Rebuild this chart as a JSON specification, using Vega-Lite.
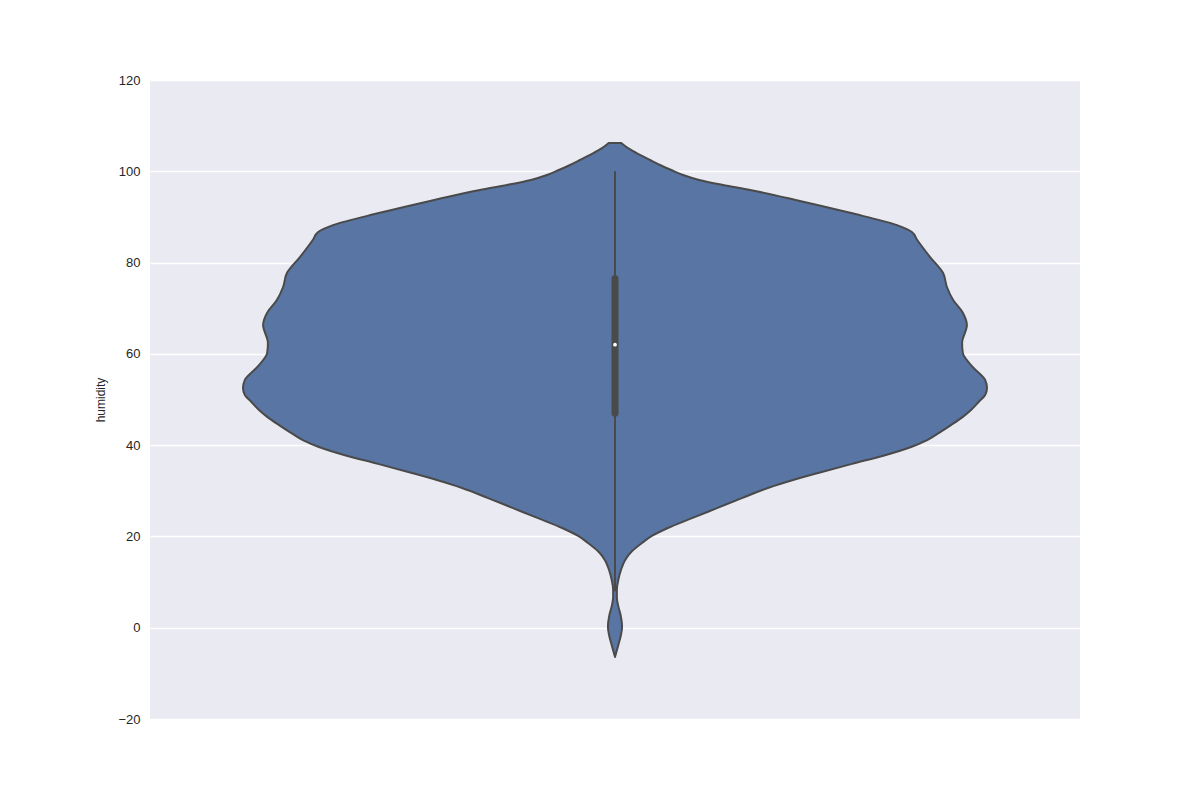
{
  "$schema": "https://vega.github.io/schema/vega-lite/v6.json",
  "autosize": {"type": "none"},
  "padding": {"left": 150, "top": 80, "right": 120, "bottom": 81},
  "width": 930,
  "height": 639,
  "background": "white",
  "config": {
    "font": "Liberation Sans",
    "view": {"fill": "#eaeaf2", "stroke": null}
  },
  "datasets": {
    "violin": [
      {"humidity": 106.2, "left": -0.017, "right": 0.017},
      {"humidity": 105.55, "left": -0.027, "right": 0.027},
      {"humidity": 104.67, "left": -0.043, "right": 0.043},
      {"humidity": 103.58, "left": -0.067, "right": 0.067},
      {"humidity": 102.47, "left": -0.094, "right": 0.094},
      {"humidity": 101.38, "left": -0.121, "right": 0.121},
      {"humidity": 100.29, "left": -0.151, "right": 0.151},
      {"humidity": 99.19, "left": -0.183, "right": 0.183},
      {"humidity": 98.1, "left": -0.226, "right": 0.226},
      {"humidity": 97.0, "left": -0.29, "right": 0.29},
      {"humidity": 95.9, "left": -0.363, "right": 0.363},
      {"humidity": 93.5, "left": -0.497, "right": 0.497},
      {"humidity": 90.9, "left": -0.632, "right": 0.632},
      {"humidity": 88.2, "left": -0.758, "right": 0.758},
      {"humidity": 86.7, "left": -0.798, "right": 0.798},
      {"humidity": 85.0, "left": -0.812, "right": 0.812},
      {"humidity": 81.2, "left": -0.847, "right": 0.847},
      {"humidity": 77.7, "left": -0.882, "right": 0.882},
      {"humidity": 74.7, "left": -0.892, "right": 0.892},
      {"humidity": 71.8, "left": -0.909, "right": 0.909},
      {"humidity": 69.0, "left": -0.935, "right": 0.935},
      {"humidity": 66.3, "left": -0.946, "right": 0.946},
      {"humidity": 62.4, "left": -0.933, "right": 0.933},
      {"humidity": 60.2, "left": -0.935, "right": 0.935},
      {"humidity": 57.1, "left": -0.962, "right": 0.962},
      {"humidity": 54.3, "left": -0.995, "right": 0.995},
      {"humidity": 52.5, "left": -1.0, "right": 1.0},
      {"humidity": 51.0, "left": -0.995, "right": 0.995},
      {"humidity": 49.5, "left": -0.978, "right": 0.978},
      {"humidity": 47.7, "left": -0.957, "right": 0.957},
      {"humidity": 46.2, "left": -0.935, "right": 0.935},
      {"humidity": 44.4, "left": -0.903, "right": 0.903},
      {"humidity": 42.7, "left": -0.871, "right": 0.871},
      {"humidity": 41.1, "left": -0.839, "right": 0.839},
      {"humidity": 39.6, "left": -0.796, "right": 0.796},
      {"humidity": 37.8, "left": -0.726, "right": 0.726},
      {"humidity": 35.9, "left": -0.637, "right": 0.637},
      {"humidity": 33.9, "left": -0.546, "right": 0.546},
      {"humidity": 32.4, "left": -0.481, "right": 0.481},
      {"humidity": 30.6, "left": -0.411, "right": 0.411},
      {"humidity": 28.4, "left": -0.341, "right": 0.341},
      {"humidity": 26.2, "left": -0.274, "right": 0.274},
      {"humidity": 24.0, "left": -0.207, "right": 0.207},
      {"humidity": 21.85, "left": -0.142, "right": 0.142},
      {"humidity": 20.1, "left": -0.099, "right": 0.099},
      {"humidity": 18.6, "left": -0.073, "right": 0.073},
      {"humidity": 16.8, "left": -0.046, "right": 0.046},
      {"humidity": 14.8, "left": -0.027, "right": 0.027},
      {"humidity": 12.65, "left": -0.016, "right": 0.016},
      {"humidity": 10.5, "left": -0.009, "right": 0.009},
      {"humidity": 8.3, "left": -0.005, "right": 0.005},
      {"humidity": 6.7, "left": -0.005, "right": 0.005},
      {"humidity": 5.0, "left": -0.008, "right": 0.008},
      {"humidity": 2.8, "left": -0.015, "right": 0.015},
      {"humidity": 0.2, "left": -0.019, "right": 0.019},
      {"humidity": -1.6, "left": -0.016, "right": 0.016},
      {"humidity": -3.8, "left": -0.009, "right": 0.009},
      {"humidity": -6.4, "left": 0, "right": 0}
    ],
    "box": [
      {"pos": 0, "whisker_lo": 8, "whisker_hi": 100, "q1": 47.0, "q3": 76.5, "median": 62}
    ]
  },
  "layer": [
    {
      "data": {"name": "violin"},
      "mark": {"type": "area", "orient": "horizontal", "interpolate": "monotone", "fill": "#5875a4", "fillOpacity": 1, "stroke": "#4a4a4a", "strokeWidth": 2, "strokeJoin": "round"},
      "encoding": {
        "y": {"field": "humidity", "type": "quantitative", "sort": null,
          "scale": {"domain": [-20, 120], "nice": false, "zero": false},
          "axis": {"values": [-20, 0, 20, 40, 60, 80, 100, 120], "title": "humidity", "titleFontSize": 12, "titleFontWeight": "normal", "titleColor": "#262626", "titlePadding": 10,
            "labelFontSize": 13, "labelColor": "#262626", "labelPadding": 10, "ticks": false, "domain": false,
            "grid": true, "gridColor": "white", "gridWidth": 1.3}},
        "x": {"field": "left", "type": "quantitative", "scale": {"domain": [-1.25, 1.25], "nice": false, "zero": false}, "axis": null},
        "x2": {"field": "right"}
      }
    },
    {
      "data": {"name": "box"},
      "mark": {"type": "rule", "color": "#4a4a4a", "strokeWidth": 2},
      "encoding": {
        "x": {"field": "pos", "type": "quantitative"},
        "y": {"field": "whisker_lo", "type": "quantitative"},
        "y2": {"field": "whisker_hi"}
      }
    },
    {
      "data": {"name": "box"},
      "mark": {"type": "rule", "color": "#4a4a4a", "strokeWidth": 7, "strokeCap": "round"},
      "encoding": {
        "x": {"field": "pos", "type": "quantitative"},
        "y": {"field": "q1", "type": "quantitative"},
        "y2": {"field": "q3"}
      }
    },
    {
      "data": {"name": "box"},
      "mark": {"type": "point", "filled": true, "color": "white", "size": 14, "opacity": 1},
      "encoding": {
        "x": {"field": "pos", "type": "quantitative"},
        "y": {"field": "median", "type": "quantitative"}
      }
    }
  ]
}
